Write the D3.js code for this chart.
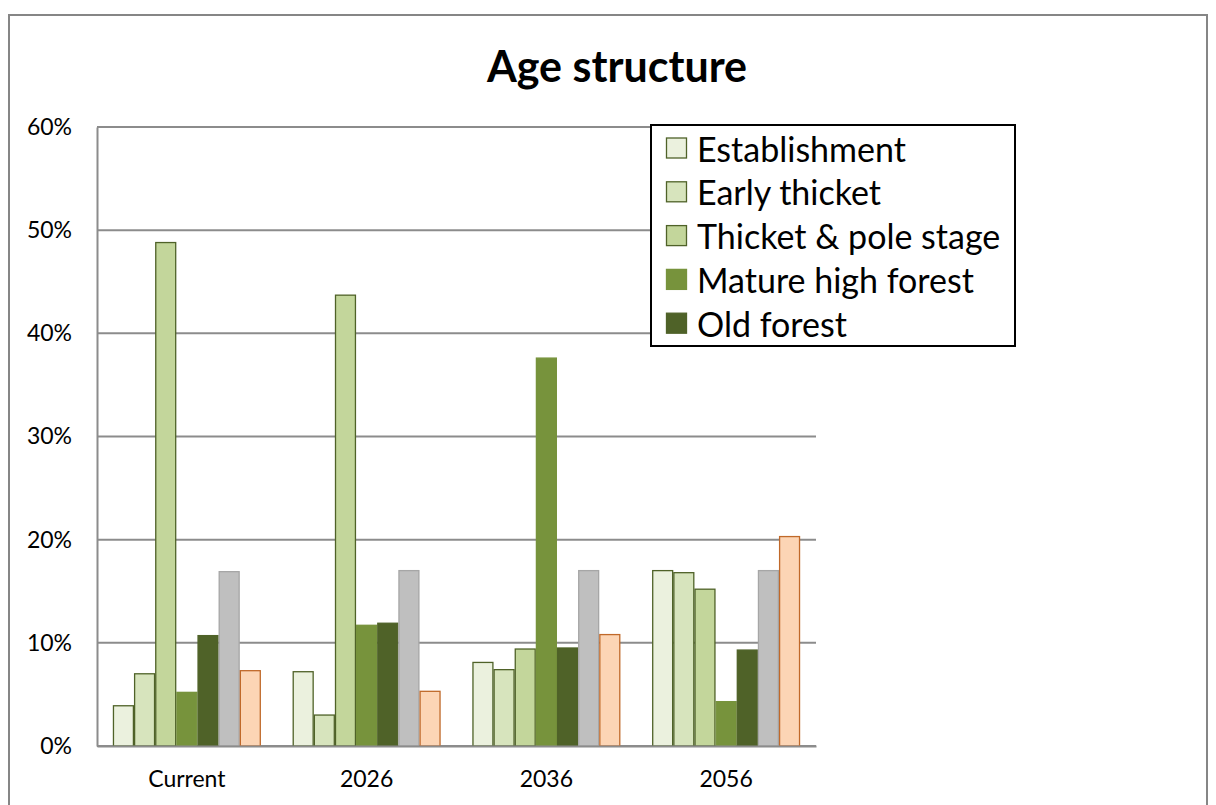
<!DOCTYPE html>
<html>
<head>
<meta charset="utf-8">
<script src="https://cdn.jsdelivr.net/npm/d3@7"></script>
<style>
  html, body { margin: 0; padding: 0; background: #fff; }
  svg { display: block; }
  text { font-family: Lato, "Open Sans", sans-serif; fill: #000; }
</style>
</head>
<body>
<svg id="chart" width="1216" height="805"></svg>
<script>
// Age-class shares per period
const categories = ["Current", "2026", "2036", "2056"];
const seriesNames = ["Establishment", "Early thicket", "Thicket & pole stage", "Mature high forest", "Old forest", "Series 6", "Series 7"];
const establishment = [0.039, 0.072, 0.081, 0.170];
const earlyThicket  = [0.070, 0.030, 0.074, 0.168];
const thicketPole   = [0.488, 0.437, 0.094, 0.152];
const matureHigh    = [0.052, 0.117, 0.376, 0.043];
const oldForest     = [0.107, 0.119, 0.095, 0.093];
const series6       = [0.169, 0.170, 0.170, 0.170];
const series7       = [0.073, 0.053, 0.108, 0.203];
const yTicks = [0, 0.1, 0.2, 0.3, 0.4, 0.5, 0.6];
const legendCount = 5;

const fills   = ["#EBF1DE", "#D7E4BD", "#C3D69B", "#77933C", "#4F6228", "#BFBFBF", "#FCD5B5"];
const strokes = ["#4F6228", "#4F6228", "#4F6228", "#77933C", "#4F6228", "#A6A6A6", "#C0692A"];

const values = [establishment, earlyThicket, thicketPole, matureHigh, oldForest, series6, series7];
const rows = categories.map((c, i) => ({
  category: c,
  bars: seriesNames.map((s, k) => ({ key: s, idx: k, value: values[k][i] }))
}));

const svg = d3.select("#chart");
const plot = { left: 97, top: 127, right: 816, bottom: 746 };

// Outer chart frame
svg.append("rect")
  .attr("x", 9).attr("y", 15)
  .attr("width", 1198).attr("height", 820)
  .attr("fill", "#fff").attr("stroke", "#868686").attr("stroke-width", 2);

// Title
svg.append("text")
  .attr("x", 617).attr("y", 82)
  .attr("text-anchor", "middle")
  .style("font-weight", "bold").style("font-size", "43px")
  .text("Age structure");

const x0 = d3.scaleBand().domain(categories).range([plot.left, plot.right]).paddingInner(0).paddingOuter(0);
const x1 = d3.scaleBand().domain(seriesNames).range([0, x0.bandwidth()]).paddingInner(0).paddingOuter(0.75);
const y = d3.scaleLinear().domain([0, 0.6]).range([plot.bottom, plot.top]);

// Gridlines
svg.append("g")
  .selectAll("line")
  .data(yTicks)
  .join("line")
  .attr("x1", plot.left).attr("x2", plot.right)
  .attr("y1", d => y(d)).attr("y2", d => y(d))
  .attr("stroke", "#8C8C8C").attr("stroke-width", 2);

// Y axis labels
const yAxis = svg.append("g")
  .attr("transform", `translate(${plot.left},0)`)
  .call(d3.axisLeft(y).tickValues(yTicks).tickFormat(d3.format(".0%")).tickSize(0).tickPadding(25));
yAxis.select(".domain").attr("stroke", "#8C8C8C").attr("stroke-width", 2);
yAxis.selectAll("text").style("font-size", "23px").style("font-family", "Lato, sans-serif").attr("fill", "#000");

// Bars
const groups = svg.append("g")
  .selectAll("g")
  .data(rows)
  .join("g")
  .attr("transform", d => `translate(${x0(d.category)},0)`);

groups.selectAll("rect")
  .data(d => d.bars)
  .join("rect")
  .attr("x", d => x1(d.key) + 0.6)
  .attr("width", x1.bandwidth() - 1.2)
  .attr("y", d => y(d.value))
  .attr("height", d => y(0) - y(d.value))
  .attr("fill", d => fills[d.idx])
  .attr("stroke", d => strokes[d.idx])
  .attr("stroke-width", 1.3);

// X axis baseline and labels
const xAxis = svg.append("g")
  .attr("transform", `translate(0,${plot.bottom})`)
  .call(d3.axisBottom(x0).tickSize(0).tickPadding(25));
xAxis.select(".domain").attr("stroke", "#8C8C8C").attr("stroke-width", 2);
xAxis.selectAll("text").style("font-size", "23px").style("font-family", "Lato, sans-serif").attr("fill", "#000");

// Legend
const legend = svg.append("g").attr("transform", "translate(651,125)");
legend.append("rect")
  .attr("width", 364).attr("height", 221)
  .attr("fill", "#fff").attr("stroke", "#000").attr("stroke-width", 2);

const items = legend.selectAll("g.item")
  .data(seriesNames.slice(0, legendCount).map((s, k) => ({ key: s, idx: k })))
  .join("g")
  .attr("class", "item")
  .attr("transform", (d, i) => `translate(15,${23 + i * 43.8})`);

items.append("rect")
  .attr("x", 0.5).attr("y", -10)
  .attr("width", 20).attr("height", 20)
  .attr("fill", d => fills[d.idx])
  .attr("stroke", d => d.idx < 3 ? strokes[d.idx] : fills[d.idx])
  .attr("stroke-width", 1.3);

items.append("text")
  .attr("x", 31).attr("y", 0)
  .attr("dominant-baseline", "central")
  .style("font-size", "34px")
  .text(d => d.key);
</script>
</body>
</html>
